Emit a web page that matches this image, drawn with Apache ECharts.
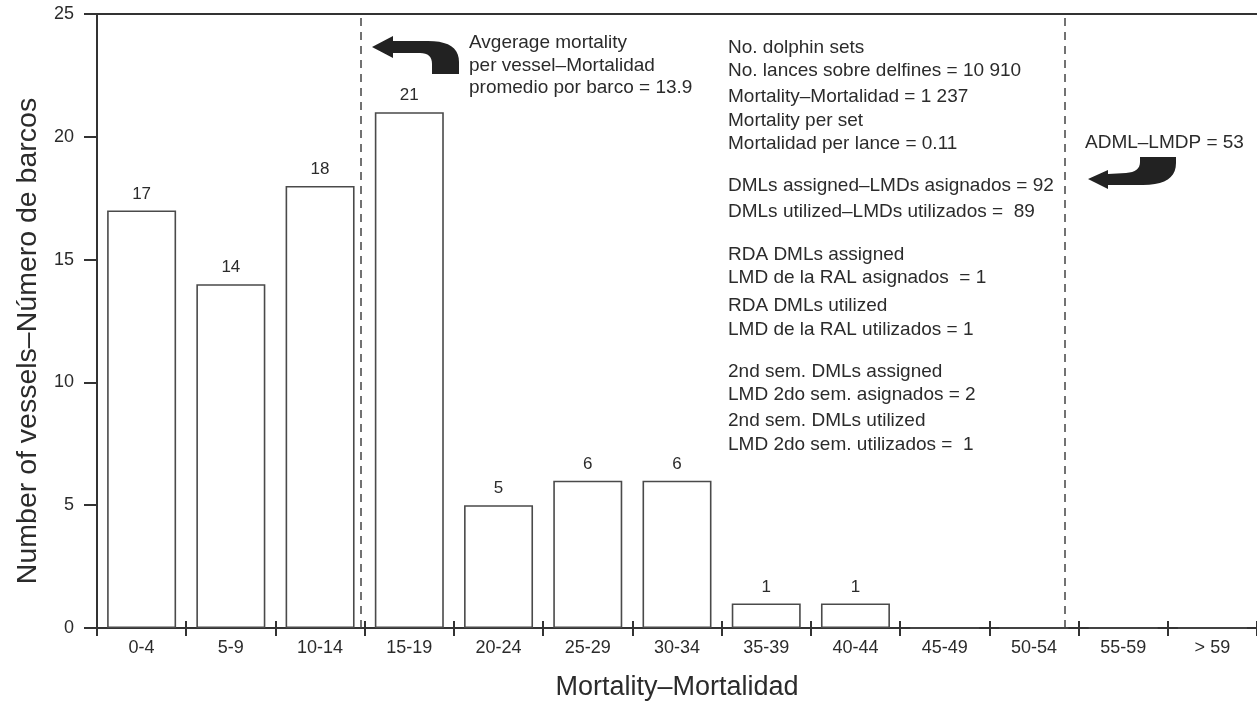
<!DOCTYPE html>
<html><head><meta charset="utf-8">
<script src="https://cdn.jsdelivr.net/npm/echarts@6/dist/echarts.min.js"></script>
<style>html,body{margin:0;padding:0;background:#fff}#c{width:1257px;height:706px}</style>
</head><body><div id="c"></div>
<script>
const categories = ['0-4','5-9','10-14','15-19','20-24','25-29','30-34','35-39','40-44','45-49','50-54','55-59','> 59'];
const vessels = [17,14,18,21,5,6,6,1,1,0,0,0,0];
const yTicks = {min: 0, max: 25, interval: 5};
// reference lines (mean mortality per vessel, ADML) in bin units along the x axis
const refLines = [2.96, 10.85];
const meanText = 'Avgerage mortality\nper vessel\u2013Mortalidad\npromedio por barco = 13.9';
const admlText = 'ADML\u2013LMDP = 53';
const infoLines = [
  'No. dolphin sets',
  'No. lances sobre delfines = 10 910',
  'Mortality\u2013Mortalidad = 1 237',
  'Mortality per set',
  'Mortalidad per lance = 0.11',
  'DMLs assigned\u2013LMDs asignados = 92',
  'DMLs utilized\u2013LMDs utilizados =  89',
  'RDA DMLs assigned',
  'LMD de la RAL asignados  = 1',
  'RDA DMLs utilized',
  'LMD de la RAL utilizados = 1',
  '2nd sem. DMLs assigned',
  'LMD 2do sem. asignados = 2',
  '2nd sem. DMLs utilized',
  'LMD 2do sem. utilizados =  1'
];

const FONT = '"Liberation Sans", Arial, sans-serif';
const TXT = '#2b2b2b';
const infoYs = [48,71,97,121,144,186,212,255,278,306,330,372,395,421,445];

function quad(p0, c, p1, n) {
  const pts = [];
  for (let i = 1; i <= n; i++) {
    const t = i / n, u = 1 - t;
    pts.push([u*u*p0[0] + 2*u*t*c[0] + t*t*p1[0], u*u*p0[1] + 2*u*t*c[1] + t*t*p1[1]]);
  }
  return pts;
}
const arrow1 = [[372,47],[393,36],[393,41],[428,41]]
  .concat(quad([428,41],[459,41],[459,62],10))
  .concat([[459,74],[432,74],[432,64]])
  .concat(quad([432,64],[432,53],[420,53],8))
  .concat([[393,53],[393,58]]);
const arrow2 = [[1088,179],[1108,170],[1108,174],[1126,173]]
  .concat(quad([1126,173],[1140,172],[1140,162],8))
  .concat([[1140,157],[1176,157],[1176,163]])
  .concat(quad([1176,163],[1176,185],[1143,185],10))
  .concat([[1108,185],[1108,189]]);

const chart = echarts.init(document.getElementById('c'));
const graphics = [];
infoLines.forEach((s, i) => {
  graphics.push({type:'text', x:728, y: infoYs[i], style:{text:s, font:'19px ' + FONT, fill:TXT, verticalAlign:'middle'}});
});
graphics.push({type:'text', x:469, y:32, style:{text:meanText, font:'19px ' + FONT, fill:TXT, lineHeight:22.5}});
graphics.push({type:'text', x:1085, y:143, style:{text:admlText, font:'19px ' + FONT, fill:TXT, verticalAlign:'middle'}});
graphics.push({type:'polygon', shape:{points:arrow1}, style:{fill:'#222'}});
graphics.push({type:'polygon', shape:{points:arrow2}, style:{fill:'#222'}});

chart.setOption({
  animation:false,
  backgroundColor:'#fff',
  textStyle:{fontFamily:FONT},
  grid:{left:97, right:0, top:14, bottom:77, containLabel:false},
  xAxis:[
    {type:'category', data:categories, position:'bottom', boundaryGap:true,
     axisLine:{show:true, lineStyle:{color:'#333', width:2}},
     axisTick:{show:true, inside:false, length:8, lineStyle:{color:'#333', width:2}},
     axisLabel:{show:true, interval:0, fontSize:18, margin:11, color:TXT, fontFamily:FONT},
     splitLine:{show:false},
     name:'Mortality\u2013Mortalidad', nameLocation:'middle', nameGap:46,
     nameTextStyle:{fontSize:27, color:TXT, fontFamily:FONT}},
    {type:'category', data:categories, position:'bottom', boundaryGap:true,
     axisLine:{show:false}, axisLabel:{show:false}, splitLine:{show:false},
     axisTick:{show:true, inside:true, length:7, lineStyle:{color:'#333', width:2}}},
    {type:'category', data:categories, position:'top', boundaryGap:true,
     axisLine:{show:true, lineStyle:{color:'#333', width:2}}, axisLabel:{show:false},
     axisTick:{show:false}, splitLine:{show:false}},
    {type:'value', min:0, max:categories.length, show:false, splitLine:{show:false}}
  ],
  yAxis:{type:'value', min:yTicks.min, max:yTicks.max, interval:yTicks.interval,
    axisLine:{show:true, lineStyle:{color:'#333', width:2}},
    axisTick:{show:true, inside:false, length:13, lineStyle:{color:'#333', width:2}},
    axisLabel:{fontSize:18, margin:23, color:TXT, fontFamily:FONT},
    splitLine:{show:false},
    name:'Number of vessels\u2013N\u00famero de barcos', nameLocation:'middle', nameGap:54,
    nameTextStyle:{fontSize:28.5, color:TXT, fontFamily:FONT, padding:[0,40,0,0]}},
  series:[
    {type:'bar', xAxisIndex:0, yAxisIndex:0, data:vessels, barWidth:69,
     itemStyle:{color:'#fff', borderColor:'#4a4a4a', borderWidth:1.6},
     label:{show:true, position:'top', distance:8, fontSize:17, color:TXT, fontFamily:FONT,
       formatter:p => p.value ? String(p.value) : ''}},
    {type:'line', xAxisIndex:3, yAxisIndex:0, data:[], symbol:'none',
     markLine:{silent:true, symbol:['none','none'], label:{show:false},
       lineStyle:{type:[8,6], color:'#444', width:1.5},
       data:refLines.map(v => ({xAxis:v}))}}
  ],
  graphic:graphics
});
</script></body></html>
